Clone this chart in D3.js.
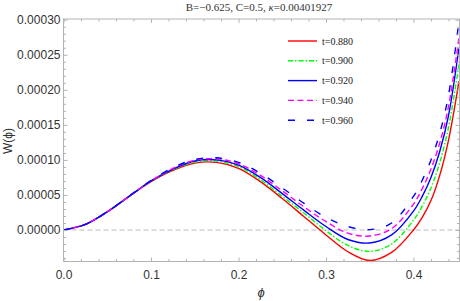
<!DOCTYPE html>
<html>
<head>
<meta charset="utf-8">
<script src="https://cdn.jsdelivr.net/npm/d3@7"></script>
<style>
body { margin: 0; background: #fff; }
#chart { width: 460px; height: 301px; }
</style>
</head>
<body>
<div id="chart"></div>
<script>
// phi grid (shared by all curves)
var phis = [0, 0.025, 0.05, 0.075, 0.1, 0.125, 0.15, 0.175, 0.2, 0.225, 0.25, 0.275, 0.3, 0.325, 0.35, 0.375, 0.4, 0.41, 0.42, 0.43, 0.44, 0.452];
// W(phi) in units of 1e-5
var w880 = [0, 0.8, 2.6, 4.8, 6.9, 8.5, 9.55, 9.65, 8.8, 6.9, 4.5, 1.9, -0.7, -3.1, -4.35, -3.2, 0.0, 1.8, 4.2, 7.8, 12.8, 21.2];
var w900 = [0, 0.8, 2.6, 4.8, 6.95, 8.6, 9.7, 9.85, 9.05, 7.2, 4.8, 2.4, -0.1, -2.2, -3.05, -2.0, 1.4, 3.4, 6.0, 9.6, 14.6, 23.6];
var w920 = [0, 0.8, 2.6, 4.8, 7.0, 8.7, 9.85, 10.0, 9.25, 7.5, 5.2, 2.8, 0.5, -1.35, -1.85, -0.7, 2.7, 4.8, 7.5, 11.2, 16.3, 26.0];
var w940 = [0, 0.8, 2.6, 4.8, 7.0, 8.8, 9.95, 10.15, 9.45, 7.8, 5.6, 3.3, 1.2, -0.45, -0.85, 0.2, 3.7, 5.9, 8.7, 12.4, 17.6, 27.4];
var w960 = [0, 0.8, 2.6, 4.85, 7.05, 8.9, 10.05, 10.3, 9.65, 8.1, 6.0, 3.8, 1.8, 0.5, 0.05, 1.0, 4.8, 7.1, 10.0, 13.8, 19.2, 29.8];
var labels = ['t=0.880', 't=0.900', 't=0.920', 't=0.940', 't=0.960'];
var colors = ['#ff0000', '#00ff00', '#0000ff', '#ff00ff', '#0000ff'];
var dashes = ['none', '5,2,1.5,2', 'none', '6,3.5', '7,12'];
var xTicks = [0, 0.1, 0.2, 0.3, 0.4];
var yTicks = [0, 0.00005, 0.0001, 0.00015, 0.0002, 0.00025, 0.0003];

var series = [w880, w900, w920, w940, w960];

var w = 460, h = 301;
var pL = 63.5, pR = 459.5, pT = 19, pB = 261.5;

var svg = d3.select('#chart').append('svg')
  .attr('width', w)
  .attr('height', h);

var x = d3.scaleLinear().domain([0, 0.4526]).range([pL, pR]);
var y = d3.scaleLinear().domain([-0.0000449, 0.000301]).range([pB, pT]);

// zero line
svg.append('line')
  .attr('x1', pL).attr('x2', pR)
  .attr('y1', y(0)).attr('y2', y(0))
  .style('stroke', '#bbbbbb')
  .style('stroke-width', 1.2)
  .style('stroke-dasharray', '5,3');

// curves
var line = d3.line()
  .x(function(d, i){ return x(phis[i]); })
  .y(function(d){ return y(d * 1e-5); })
  .curve(d3.curveCatmullRom.alpha(0.5));

svg.append('clipPath').attr('id', 'clip')
  .append('rect')
  .attr('x', pL).attr('y', pT)
  .attr('width', pR - pL).attr('height', pB - pT);

svg.append('g').attr('clip-path', 'url(#clip)')
  .selectAll('path').data(series)
  .enter().append('path')
    .attr('d', function(d){ return line(d); })
    .style('fill', 'none')
    .style('stroke', function(d, i){ return colors[i]; })
    .style('stroke-width', 1.4)
    .style('stroke-dasharray', function(d, i){ return dashes[i]; });

// frame + ticks
var frameColor = '#b3b3b3';
svg.append('rect')
  .attr('x', pL).attr('y', pT)
  .attr('width', pR - pL).attr('height', pB - pT)
  .style('fill', 'none')
  .style('stroke', frameColor)
  .style('stroke-width', 1);

var axB = d3.axisBottom(x).tickValues(xTicks).tickSize(-4).tickFormat(d3.format('.1f')).tickSizeOuter(0);
var axT = d3.axisTop(x).tickValues(xTicks).tickSize(-4).tickFormat('').tickSizeOuter(0);
var axL = d3.axisLeft(y).tickValues(yTicks).tickSize(-4).tickFormat(d3.format('.5f')).tickSizeOuter(0);
var axR = d3.axisRight(y).tickValues(yTicks).tickSize(-4).tickFormat('').tickSizeOuter(0);

var xMinor = d3.range(0, 0.451, 0.02).filter(function(v){ return Math.abs(v*10 - Math.round(v*10)) > 1e-6; });
var yMinor = d3.range(-0.00004, 0.000301, 0.00001).filter(function(v){ return Math.abs(v/0.00005 - Math.round(v/0.00005)) > 1e-6; });

var gB = svg.append('g').attr('transform', 'translate(0,' + pB + ')').call(axB);
var gT = svg.append('g').attr('transform', 'translate(0,' + pT + ')').call(axT);
var gL = svg.append('g').attr('transform', 'translate(' + pL + ',0)').call(axL);
var gR = svg.append('g').attr('transform', 'translate(' + pR + ',0)').call(axR);

gB.append('g').call(d3.axisBottom(x).tickValues(xMinor).tickSize(-2.5).tickFormat('').tickSizeOuter(0));
gT.append('g').call(d3.axisTop(x).tickValues(xMinor).tickSize(-2.5).tickFormat('').tickSizeOuter(0));
gL.append('g').call(d3.axisLeft(y).tickValues(yMinor).tickSize(-2.5).tickFormat('').tickSizeOuter(0));
gR.append('g').call(d3.axisRight(y).tickValues(yMinor).tickSize(-2.5).tickFormat('').tickSizeOuter(0));

svg.selectAll('.domain').remove();
svg.selectAll('.tick line').style('stroke', frameColor);
svg.selectAll('.tick text')
  .style('font-family', '"Liberation Sans", Arial, sans-serif')
  .style('font-size', '12px')
  .style('fill', '#333');
gB.selectAll('.tick text').attr('y', 9);
gL.selectAll('.tick text').attr('x', -3);

// title
svg.append('text')
  .attr('x', 259).attr('y', 11)
  .attr('text-anchor', 'middle')
  .style('font-family', '"Liberation Serif", "Times New Roman", serif')
  .style('font-size', '11px')
  .style('fill', '#333')
  .html('B=\u22120.625, C=0.5, <tspan font-style="italic">\u03ba</tspan>=0.00401927');

// axis labels
svg.append('text')
  .attr('transform', 'translate(12,141) rotate(-90)')
  .attr('text-anchor', 'middle')
  .style('font-family', '"Liberation Sans", Arial, sans-serif')
  .style('font-size', '12px')
  .style('fill', '#333')
  .text('W(\u03d5)');

svg.append('text')
  .attr('x', 261).attr('y', 297)
  .attr('text-anchor', 'middle')
  .style('font-family', '"Liberation Sans", Arial, sans-serif')
  .style('font-size', '13px')
  .style('font-style', 'italic')
  .style('fill', '#333')
  .text('\u03d5');

// legend
var leg = svg.append('g').selectAll('g').data(labels)
  .enter().append('g')
  .attr('transform', function(d, i){ return 'translate(288,' + (41 + i * 19.8) + ')'; });
leg.append('line')
  .attr('x1', 0).attr('x2', 29)
  .style('stroke', function(d, i){ return colors[i]; })
  .style('stroke-width', 1.4)
  .style('stroke-dasharray', function(d, i){ return dashes[i]; });
leg.append('text')
  .attr('x', 34).attr('y', 3.5)
  .style('font-family', '"Liberation Serif", "Times New Roman", serif')
  .style('font-size', '10px')
  .style('fill', '#222')
  .text(function(d){ return d; });
</script>
</body>
</html>
